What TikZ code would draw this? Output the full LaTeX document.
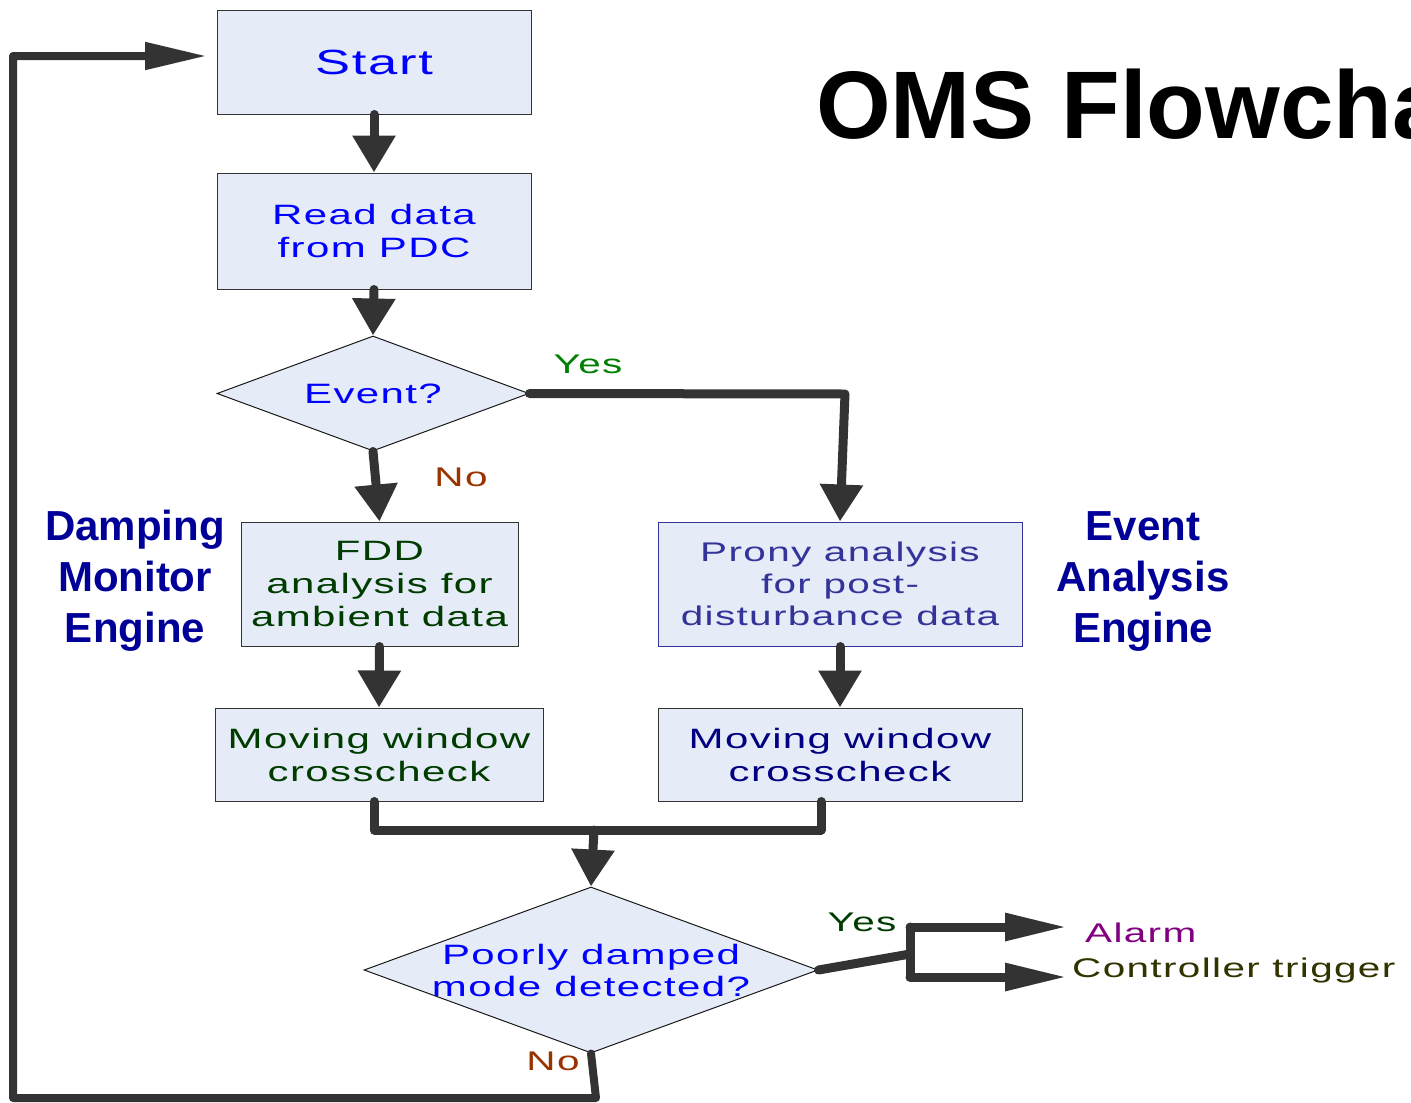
\documentclass[tikz,border=0pt]{standalone}
\usepackage{fontspec}
\setmainfont{Liberation Sans}
\newfontfamily\wfont[FakeStretch=1.5,LetterSpace=5]{Liberation Sans}
\usetikzlibrary{arrows.meta,shapes.geometric}
\definecolor{boxfill}{RGB}{230,236,247}
\definecolor{connc}{RGB}{51,51,51}
\definecolor{tblue}{RGB}{0,0,255}
\definecolor{tdgreen}{RGB}{0,60,0}
\definecolor{tprony}{RGB}{51,51,153}
\definecolor{tnavy}{RGB}{0,0,128}
\definecolor{tgreen}{RGB}{0,128,0}
\definecolor{tbrown}{RGB}{153,51,0}
\definecolor{tpurple}{RGB}{128,0,128}
\definecolor{tolive}{RGB}{51,51,0}
\definecolor{tside}{RGB}{0,0,153}
\begin{document}
\begin{tikzpicture}[x=1pt,y=-1pt,
  box/.style={draw=black!80, line width=1pt, fill=boxfill, inner sep=0pt, align=center},
  dia/.style={diamond, draw=black!90, line width=1pt, fill=boxfill, inner sep=0pt},
  conn/.style={draw=connc, line width=9pt, line cap=round, line join=round},
  arr/.style={conn, -{Triangle[width=41pt,length=37pt]}},
  longarr/.style={conn, -{Triangle[width=26pt,length=62pt]}},
  boxtxt/.style={font=\wfont\fontsize{28}{33}\selectfont, align=center},
  sidelbl/.style={font=\bfseries\fontsize{42}{51}\selectfont, text=tside, align=center},
  lbl/.style={font=\wfont\fontsize{27}{30}\selectfont, inner sep=0pt}
]
\clip (0,0) rectangle (1411,1103);
\fill[white] (0,0) rectangle (1411,1103);

% title
\node[anchor=base west, inner sep=0pt, font=\bfseries\fontsize{96}{96}\selectfont] (title) at (816,138) {OMS Flowchart};

% boxes
\node[box, minimum width=314pt, minimum height=104pt, boxtxt, text=tblue, font=\wfont\fontsize{35}{40}\selectfont] (start) at (374,62) {Start};
\node[box, minimum width=314pt, minimum height=116pt, boxtxt, text=tblue] (read) at (374,231) {Read data\\from PDC};
\node[dia, minimum width=312pt, minimum height=115pt] (ev) at (373,393.5) {};
\node[boxtxt, text=tblue] (evt) at (ev.center) {Event?};

\node[box, minimum width=277pt, minimum height=124pt, boxtxt, text=tdgreen] (fdd) at (379.5,584) {FDD\\analysis for\\ambient data};
\node[box, draw=tprony, minimum width=364pt, minimum height=124pt, boxtxt, text=tprony, font=\wfont\fontsize{27}{32}\selectfont] (prony) at (840,584) {Prony analysis\\for post-\\disturbance data};

\node[box, minimum width=328pt, minimum height=93pt, boxtxt, text=tdgreen] (mwl) at (379,754.5) {Moving window\\crosscheck};
\node[box, minimum width=364pt, minimum height=93pt, boxtxt, text=tnavy] (mwr) at (840,754.5) {Moving window\\crosscheck};

\node[dia, minimum width=454pt, minimum height=166pt] (pd) at (591,970) {};
\node[boxtxt, text=tblue, font=\wfont\fontsize{28}{32}\selectfont] (pdt) at (pd.center) {Poorly damped\\mode detected?};

% side labels
\node[sidelbl] (dme) at (135,581) {Damping\\Monitor\\Engine};
\node[sidelbl] (eae) at (1143,581) {Event\\Analysis\\Engine};

% outputs
\node[lbl, text=tpurple, anchor=west] (alarm) at (1085,933) {Alarm};
\node[lbl, text=tolive, anchor=west] (ctrl) at (1072,971) {Controller trigger};

% edge labels
\node[lbl, text=tgreen] (yes1) at (588,364) {Yes};
\node[lbl, text=tbrown] (no1) at (461,477) {No};
\node[lbl, text=tdgreen] (yes2) at (862,922) {Yes};
\node[lbl, text=tbrown] (no2) at (553,1061) {No};

% connectors
\coordinate (yc) at (845,394);
\coordinate (ml) at ([xshift=-5pt]mwl.south);
\coordinate (mr) at ([xshift=-19pt]mwr.south);
\coordinate (mj) at (594,830);
\coordinate (j2) at (910,954);
\coordinate (j2t) at (910,927);
\coordinate (j2b) at (910,977);
\coordinate (a1) at (1067,927);
\coordinate (a2) at (1067,977);
\coordinate (lb1) at (596,1098);
\coordinate (lb2) at (13,1098);
\coordinate (lb3) at (13,56);
\coordinate (stin) at (207,56);

\draw[arr] (start.south) -- (read.north);
\draw[arr] (read.south) -- (ev.north);
\draw[arr] (ev.south) -- (fdd.north);
\draw[arr] (ev.east) -- (yc) -- (prony.north);
\draw[arr] (fdd.south) -- (mwl.north);
\draw[arr] (prony.south) -- (mwr.north);
\draw[conn] (ml) -- (ml |- mj) -- (mr |- mj) -- (mr);
\draw[arr] (mj) -- (pd.north);
\draw[conn] (pd.east) -- (j2);
\draw[conn] (j2t) -- (j2b);
\draw[longarr] (j2t) -- (a1);
\draw[longarr] (j2b) -- (a2);
\draw[longarr, line width=8pt] (pd.south) -- (lb1) -- (lb2) -- (lb3) -- (stin);
\end{tikzpicture}
\end{document}
